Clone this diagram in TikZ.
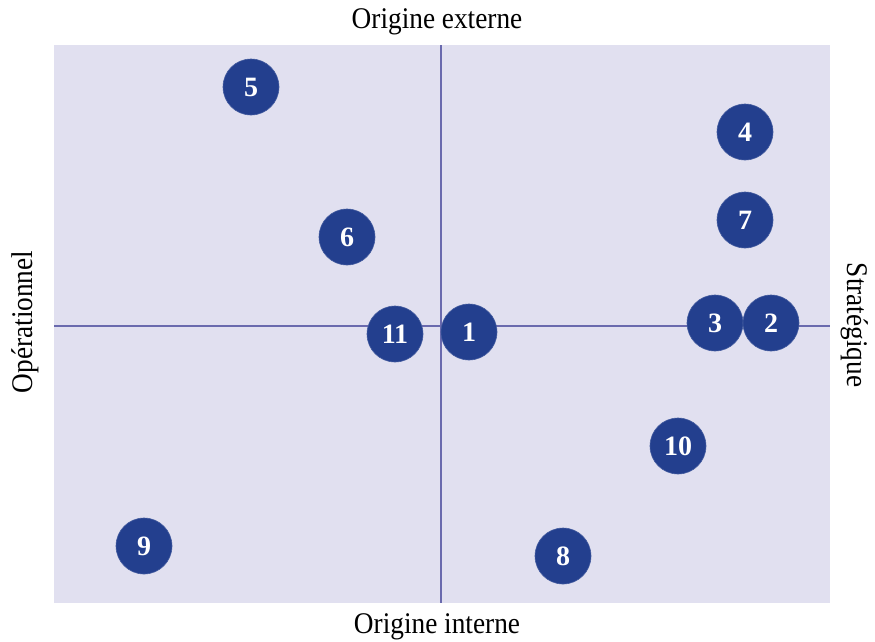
\documentclass[tikz,border=0pt]{standalone}
\usepackage{fontspec}
\setmainfont{Liberation Serif}
\definecolor{bgc}{HTML}{E1E0F0}
\definecolor{axc}{HTML}{6A6AAE}
\definecolor{dotc}{HTML}{233F8E}
\tikzset{
  dot/.style={circle, fill=dotc, draw=dotc!85!white, line width=0.6pt, minimum size=56pt, inner sep=0pt, text=white, font=\fontsize{28}{28}\selectfont\bfseries},
  axislabel/.style={inner sep=0pt, font=\fontsize{30}{30}\selectfont},
  axisline/.style={draw=axc, line width=2.3pt}
}
\newcommand{\cond}[1]{\scalebox{0.91}[1]{#1}}
\begin{document}
\begin{tikzpicture}[x=1pt, y=-1pt]
\useasboundingbox (0,0) rectangle (875,641);
\fill[bgc] (54,45) rectangle (830,603);
\coordinate (L) at (54,326);
\coordinate (R) at (830,326);
\coordinate (T) at (441,45);
\coordinate (B) at (441,603);
\draw[axisline] (L) -- (R);
\draw[axisline] (T) -- (B);
\node[axislabel] (top) at (437,22) {\cond{Origine externe}};
\node[axislabel] (bot) at (437,627) {\cond{Origine interne}};
\node[axislabel, rotate=90] (left) at (25,322) {\cond{Opérationnel}};
\node[axislabel, rotate=-90] (right) at (855,325) {\cond{Stratégique}};
\node[dot] (n5) at (251,87) {5};
\node[dot] (n4) at (745,132) {4};
\node[dot] (n7) at (745,220) {7};
\node[dot] (n6) at (347,237) {6};
\node[dot] (n11) at (395,334) {11};
\node[dot] (n1) at (469,332) {1};
\node[dot] (n3) at (715,323) {3};
\node[dot] (n2) at (771,323) {2};
\node[dot] (n10) at (678,446) {10};
\node[dot] (n9) at (144,546) {9};
\node[dot] (n8) at (563,556) {8};
\end{tikzpicture}
\end{document}
